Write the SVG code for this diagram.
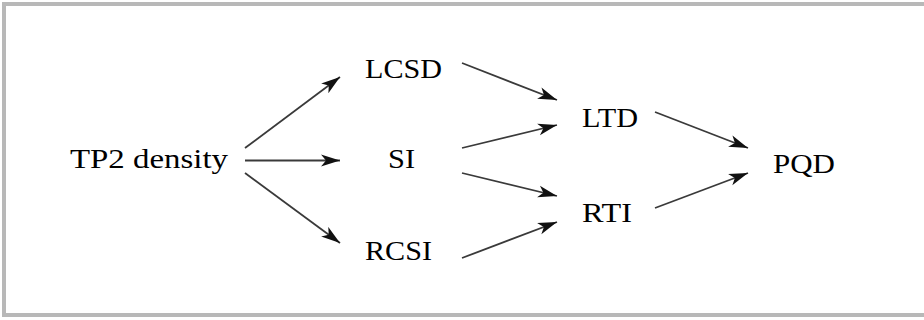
<svg xmlns="http://www.w3.org/2000/svg" width="924" height="320" viewBox="0 0 924 320">
<style>
text{font-family:"Liberation Serif",Tinos,"Times New Roman",serif;font-size:27px;fill:#000}
.edge{stroke:#3a3a3a;stroke-width:1.8;fill:none;marker-end:url(#ah)}
</style>
<defs>
<marker id="ah" markerUnits="userSpaceOnUse" markerWidth="22" markerHeight="14" refX="19" refY="7" orient="auto">
<path d="M0,1 L19,7 L0,13 L5,7 Z" fill="#111"/>
</marker>
</defs>
<rect x="0" y="0" width="924" height="320" fill="#fff"/>
<rect x="4" y="4" width="940" height="311" fill="none" stroke="#b8b8b8" stroke-width="4"/>
<g id="connectors">
<line class="edge" x1="245" y1="148" x2="340" y2="77"/>
<line class="edge" x1="245" y1="160.5" x2="340" y2="160.5"/>
<line class="edge" x1="245" y1="173" x2="340" y2="243"/>
<line class="edge" x1="462" y1="63" x2="557" y2="100"/>
<line class="edge" x1="462" y1="148" x2="557" y2="125"/>
<line class="edge" x1="462" y1="173" x2="557" y2="196"/>
<line class="edge" x1="462" y1="258" x2="557" y2="222"/>
<line class="edge" x1="655" y1="112" x2="748" y2="148"/>
<line class="edge" x1="655" y1="208" x2="748" y2="173"/>
</g>
<g id="node-tp2"><text x="70" y="168" textLength="158" lengthAdjust="spacingAndGlyphs">TP2 density</text></g>
<g id="node-lcsd"><text x="365" y="78" textLength="77" lengthAdjust="spacingAndGlyphs">LCSD</text></g>
<g id="node-si"><text x="388" y="168" textLength="27" lengthAdjust="spacingAndGlyphs">SI</text></g>
<g id="node-rcsi"><text x="365" y="260" textLength="67" lengthAdjust="spacingAndGlyphs">RCSI</text></g>
<g id="node-ltd"><text x="582" y="127" textLength="56" lengthAdjust="spacingAndGlyphs">LTD</text></g>
<g id="node-rti"><text x="582" y="222" textLength="50" lengthAdjust="spacingAndGlyphs">RTI</text></g>
<g id="node-pqd"><text x="773" y="173" textLength="62" lengthAdjust="spacingAndGlyphs">PQD</text></g>
</svg>
